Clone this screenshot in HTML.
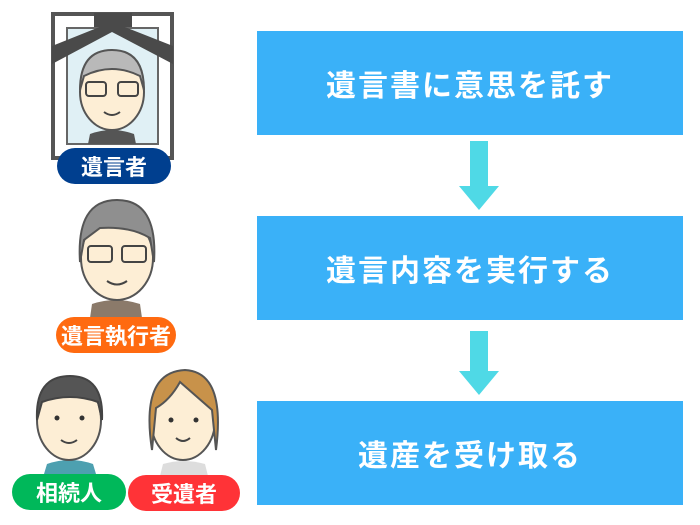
<!DOCTYPE html>
<html><head><meta charset="utf-8"><style>
body{margin:0;width:700px;height:525px;background:#fff;position:relative;overflow:hidden;font-family:"Liberation Sans","Noto Sans CJK JP",sans-serif}
.box{position:absolute;left:257px;width:426px;height:104px;background:#3ab1f8;color:#fff;font-size:30px;font-weight:bold;display:flex;align-items:center;justify-content:center;letter-spacing:2px}
.pill{position:absolute;height:36px;border-radius:18px;color:#fff;font-weight:bold;font-size:22px;display:flex;align-items:center;justify-content:center}
svg{position:absolute;left:0;top:0}
</style></head><body>
<div class="box" style="top:31px">遺言書に意思を託す</div>
<div class="box" style="top:216px">遺言内容を実行する</div>
<div class="box" style="top:401px">遺産を受け取る</div>
<svg width="700" height="525">
<polygon points="470,141 488,141 488,186 499,186 479,210 459,186 470,186" fill="#4fd9e6"/>
<polygon points="470,331 488,331 488,371 499,371 479,395 459,371 470,371" fill="#4fd9e6"/>
<rect x="53" y="14" width="119" height="144" fill="#fff" stroke="#555" stroke-width="4"/>
<rect x="67" y="28" width="91" height="116" fill="#e0f0f5" stroke="#666" stroke-width="2"/>
<polygon points="52,46 112,22 173,46 173,64 112,32 52,64" fill="#4a4a4a"/>
<rect x="94" y="13" width="38" height="14" fill="#4a4a4a"/>
<path d="M88,144 L90,134 Q112,126 134,134 L136,144Z" fill="#555"/>
<ellipse cx="112" cy="92" rx="32" ry="38" fill="#fdeed5" stroke="#555" stroke-width="2"/>
<path d="M80,90 Q80,50 112,50 Q144,50 144,90 L140,76 Q112,62 84,76Z" fill="#b9b9b9" stroke="#555" stroke-width="2"/>
<rect x="86" y="82" width="20" height="14" rx="3" fill="none" stroke="#444" stroke-width="2"/><rect x="118" y="82" width="20" height="14" rx="3" fill="none" stroke="#444" stroke-width="2"/>
<path d="M104,112 Q112,118 120,112" stroke="#444" stroke-width="2" fill="none"/>
<path d="M90,318 L92,304 Q116,296 140,304 L142,318Z" fill="#8b7a6a"/>
<ellipse cx="117" cy="258" rx="36" ry="42" fill="#fdeed5" stroke="#555" stroke-width="2"/>
<path d="M80,262 Q76,200 117,200 Q158,200 154,262 L150,238 Q130,226 100,228 L84,240Z" fill="#8f8f8f" stroke="#555" stroke-width="2"/>
<rect x="88" y="246" width="24" height="16" rx="3" fill="none" stroke="#444" stroke-width="2"/><rect x="122" y="246" width="24" height="16" rx="3" fill="none" stroke="#444" stroke-width="2"/>
<path d="M107,281 Q117,288 127,281" stroke="#444" stroke-width="2" fill="none"/>
<path d="M44,474 L47,464 Q70,456 93,464 L96,474Z" fill="#4da0b0"/>
<ellipse cx="69" cy="420" rx="32" ry="40" fill="#fdeed5" stroke="#555" stroke-width="2"/>
<path d="M37,420 Q35,376 70,376 Q104,376 102,420 L98,402 Q70,392 42,402Z" fill="#555" stroke="#444" stroke-width="2"/>
<circle cx="57" cy="418" r="2.5" fill="#333"/><circle cx="82" cy="418" r="2.5" fill="#333"/>
<path d="M61,440 Q69,446 77,440" stroke="#444" stroke-width="2" fill="none"/>
<path d="M160,476 L163,464 Q184,458 205,464 L208,476Z" fill="#ddd"/>
<ellipse cx="183" cy="420" rx="32" ry="40" fill="#fdeed5" stroke="#555" stroke-width="2"/>
<path d="M152,450 Q140,372 185,370 Q226,372 216,450 L212,410 Q196,396 180,382 Q170,400 156,408Z" fill="#c8924a" stroke="#555" stroke-width="2"/>
<circle cx="171" cy="420" r="2.5" fill="#333"/><circle cx="196" cy="420" r="2.5" fill="#333"/>
<path d="M176,438 Q183,444 190,438" stroke="#444" stroke-width="2" fill="none"/>
</svg>
<div class="pill" style="left:57px;top:148px;width:114px;background:#003f8f">遺言者</div>
<div class="pill" style="left:56px;top:317px;width:120px;background:#ff6a10">遺言執行者</div>
<div class="pill" style="left:12px;top:474px;width:114px;background:#00b85a">相続人</div>
<div class="pill" style="left:128px;top:475px;width:112px;background:#ff3337">受遺者</div>
</body></html>
